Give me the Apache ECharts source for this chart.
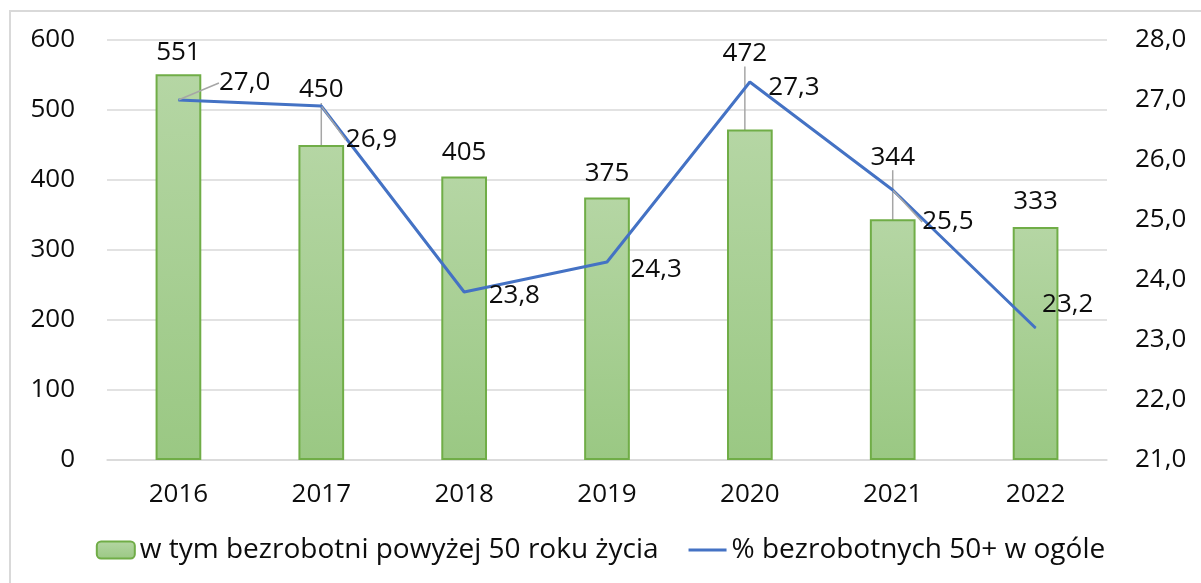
<!DOCTYPE html>
<html>
<head>
<meta charset="utf-8">
<script src="https://cdn.jsdelivr.net/npm/echarts@6/dist/echarts.min.js"></script>
<style>
  html, body { margin: 0; padding: 0; background: #fff; }
  #chart { width: 1201px; height: 583px; }
</style>
</head>
<body>
<div id="chart"></div>
<script>
// dane
var lata = ['2016', '2017', '2018', '2019', '2020', '2021', '2022'];
var bezrobotni50 = [551, 450, 405, 375, 472, 344, 333];
var procent50 = [27.0, 26.9, 23.8, 24.3, 27.3, 25.5, 23.2];
var lewaOs = [0, 100, 200, 300, 400, 500, 600];
var prawaOs = [21, 22, 23, 24, 25, 26, 27, 28];

// przesunięcia etykiet (jak w oryginale z Excela) i które mają linię odniesienia
var przesuniecieSlupki = [[0, 0], [0, -33], [0, -2], [0, -2], [-5, -54], [0, -40], [0, -3]];
var przesuniecieLinia = [[35, -17], [19, 34], [19, 4], [18, 8], [13, 6], [24, 32], [1, -23]];
var liniaSlupki = [false, true, false, false, true, true, false];
var liniaLinia = [true, true, false, false, false, true, false];

var czcionka = '"Open Sans", "Noto Sans", sans-serif';
var kolorTekstu = '#0d0d0d';
var stylOdniesienia = { color: '#a6a6a6', width: 1.5 };

function przecinek(v) { return v.toFixed(1).replace('.', ','); }

var option = {
    animation: false,
    backgroundColor: '#fff',
    textStyle: { fontFamily: czcionka },
    graphic: [{
        type: 'rect',
        shape: { x: 10, y: 11, width: 1200, height: 600 },
        style: { fill: 'none', stroke: '#d9d9d9', lineWidth: 2 },
        silent: true
    }],
    grid: {
        left: 107,
        right: 94,
        top: 40,
        bottom: 123
    },
    legend: {
        bottom: 14,
        left: 'center',
        itemWidth: 38,
        itemHeight: 17,
        itemGap: 30,
        textStyle: { fontSize: 28, color: kolorTekstu, fontFamily: czcionka },
        data: [
            { name: 'w tym bezrobotni powyżej 50 roku życia' },
            { name: '% bezrobotnych 50+ w ogóle', icon: 'path://M0,7 L38,7 L38,10 L0,10 Z' }
        ]
    },
    xAxis: {
        type: 'category',
        data: lata,
        axisLine: { lineStyle: { color: '#d9d9d9', width: 1.5 } },
        axisTick: { show: false },
        axisLabel: { fontSize: 26, color: kolorTekstu, margin: 22 }
    },
    yAxis: [{
        type: 'value',
        min: lewaOs[0],
        max: lewaOs[lewaOs.length - 1],
        interval: 100,
        axisLine: { show: false },
        axisTick: { show: false },
        axisLabel: { fontSize: 26, color: kolorTekstu, margin: 32 },
        splitLine: { lineStyle: { color: '#d9d9d9', width: 1.5 } }
    }, {
        type: 'value',
        min: prawaOs[0],
        max: prawaOs[prawaOs.length - 1],
        interval: 1,
        axisLine: { show: false },
        axisTick: { show: false },
        splitLine: { show: false },
        axisLabel: {
            fontSize: 26,
            color: kolorTekstu,
            margin: 28,
            formatter: przecinek
        }
    }],
    series: [{
        name: 'w tym bezrobotni powyżej 50 roku życia',
        type: 'bar',
        data: bezrobotni50.map(function (v, i) {
            return { value: v, labelLine: { show: liniaSlupki[i], lineStyle: stylOdniesienia } };
        }),
        barWidth: '32%',
        itemStyle: {
            color: new echarts.graphic.LinearGradient(0, 0, 0, 1, [
                { offset: 0, color: '#b5d6a4' },
                { offset: 1, color: '#9ac883' }
            ]),
            borderColor: '#70ad47',
            borderWidth: 2
        },
        label: {
            show: true,
            position: 'top',
            distance: 9,
            fontSize: 26,
            color: kolorTekstu
        },
        labelLayout: function (p) {
            var d = przesuniecieSlupki[p.dataIndex];
            return { dx: d[0], dy: d[1] };
        }
    }, {
        name: '% bezrobotnych 50+ w ogóle',
        type: 'line',
        yAxisIndex: 1,
        data: procent50.map(function (v, i) {
            return { value: v, labelLine: { show: liniaLinia[i], lineStyle: stylOdniesienia } };
        }),
        symbol: 'circle',
        symbolSize: 1,
        lineStyle: { color: '#4472c4', width: 3 },
        itemStyle: { color: '#4472c4' },
        label: {
            show: true,
            position: 'right',
            distance: 5,
            fontSize: 26,
            color: kolorTekstu,
            formatter: function (p) { return przecinek(p.value); }
        },
        labelLayout: function (p) {
            var d = przesuniecieLinia[p.dataIndex];
            return { dx: d[0], dy: d[1] };
        }
    }]
};

var wykres = echarts.init(document.getElementById('chart'));
wykres.setOption(option);
</script>
</body>
</html>
